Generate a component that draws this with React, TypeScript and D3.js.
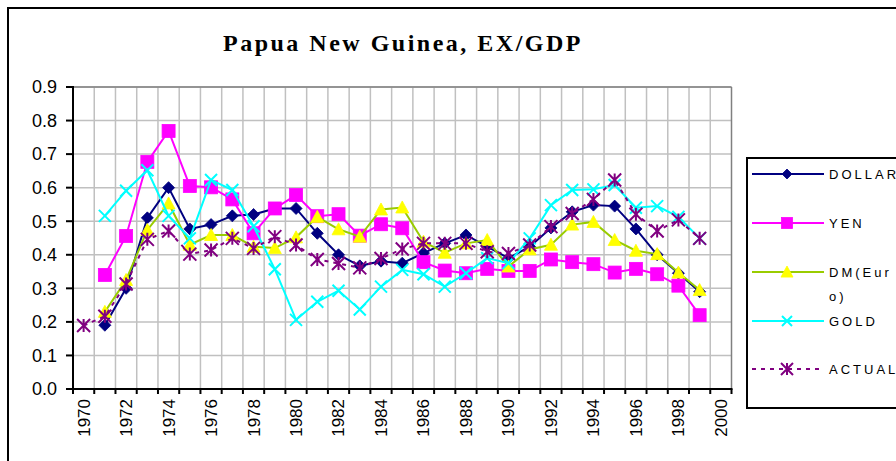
import React from 'react';
import * as d3 from 'd3';

const categories = ['1970','1971','1972','1973','1974','1975','1976','1977','1978','1979','1980','1981','1982','1983','1984','1985','1986','1987','1988','1989','1990','1991','1992','1993','1994','1995','1996','1997','1998','1999','2000'];
const years = ['1970','1971','1972','1973','1974','1975','1976','1977','1978','1979','1980','1981','1982','1983','1984','1985','1986','1987','1988','1989','1990','1991','1992','1993','1994','1995','1996','1997','1998','1999'];
const xTickLabels = ['1970','1972','1974','1976','1978','1980','1982','1984','1986','1988','1990','1992','1994','1996','1998','2000'];
const yTickValues = [0, 0.1, 0.2, 0.3, 0.4, 0.5, 0.6, 0.7, 0.8, 0.9];

const dollar = [null, 0.19, 0.30, 0.51, 0.60, 0.477, 0.49, 0.516, 0.52, 0.538, 0.538, 0.464, 0.40, 0.367, 0.381, 0.375, 0.405, 0.434, 0.459, 0.424, 0.39, 0.424, 0.48, 0.528, 0.548, 0.545, 0.477, 0.40, 0.345, 0.29];
const yen = [null, 0.34, 0.456, 0.677, 0.769, 0.605, 0.601, 0.565, 0.464, 0.538, 0.578, 0.515, 0.521, 0.457, 0.491, 0.479, 0.378, 0.353, 0.345, 0.358, 0.352, 0.352, 0.386, 0.378, 0.372, 0.347, 0.358, 0.342, 0.308, 0.22];
const dm = [null, 0.23, 0.325, 0.474, 0.553, 0.43, 0.459, 0.459, 0.424, 0.42, 0.452, 0.513, 0.476, 0.454, 0.535, 0.541, 0.439, 0.406, 0.434, 0.444, 0.365, 0.416, 0.43, 0.49, 0.498, 0.444, 0.412, 0.402, 0.347, 0.295];
const gold = [null, 0.516, 0.591, 0.652, 0.516, 0.449, 0.623, 0.593, 0.485, 0.357, 0.206, 0.26, 0.293, 0.237, 0.305, 0.355, 0.342, 0.305, 0.345, 0.39, 0.375, 0.449, 0.548, 0.593, 0.595, 0.608, 0.54, 0.545, 0.513, 0.449];
const actual = [0.189, 0.217, 0.313, 0.446, 0.471, 0.402, 0.414, 0.449, 0.419, 0.454, 0.429, 0.386, 0.374, 0.361, 0.389, 0.417, 0.434, 0.434, 0.434, 0.409, 0.404, 0.429, 0.484, 0.523, 0.565, 0.623, 0.521, 0.471, 0.504, 0.449];

const seriesNames = ['DOLLAR', 'YEN', 'DM(Eur o)', 'GOLD', 'ACTUAL'];

type Marker = 'diamond' | 'square' | 'triangle' | 'x' | 'star';

function MarkerShape({ kind, x, y, s, fill, stroke }: { kind: Marker; x: number; y: number; s: number; fill: string; stroke: string }) {
  const h = s / 2;
  if (kind === 'diamond') {
    return <path d={`M${x},${y - h}L${x + h},${y}L${x},${y + h}L${x - h},${y}Z`} fill={fill} stroke={stroke} strokeWidth={0.8} />;
  }
  if (kind === 'square') {
    return <rect x={x - h} y={y - h} width={s} height={s} fill={fill} stroke={stroke} strokeWidth={0.8} />;
  }
  if (kind === 'triangle') {
    return <path d={`M${x},${y - h}L${x + h},${y + h * 0.85}L${x - h},${y + h * 0.85}Z`} fill={fill} stroke={fill} strokeWidth={0.8} />;
  }
  if (kind === 'x') {
    return <path d={`M${x - h},${y - h}L${x + h},${y + h}M${x - h},${y + h}L${x + h},${y - h}`} stroke={stroke} strokeWidth={2} fill="none" />;
  }
  return <path d={`M${x - h},${y - h}L${x + h},${y + h}M${x - h},${y + h}L${x + h},${y - h}M${x},${y - h}L${x},${y + h}`} stroke={stroke} strokeWidth={2} fill="none" />;
}

export default function App() {
  const W = 896, H = 461;
  const left = 73, right = 731.5, top = 87, bottom = 389;
  const x = d3.scaleBand<string>().domain(categories).range([left, right]).padding(0);
  const y = d3.scaleLinear().domain([0, 0.9]).range([bottom, top]);
  const bw = x.bandwidth();
  const cx = (c: string) => (x(c) as number) + bw / 2;

  const series = [
    { name: seriesNames[0], data: dollar, line: '#000080', fill: '#000080', stroke: '#000080', marker: 'diamond' as Marker, size: 12, dash: undefined as string | undefined },
    { name: seriesNames[1], data: yen, line: '#FF00FF', fill: '#FF00FF', stroke: '#FF00FF', marker: 'square' as Marker, size: 13, dash: undefined },
    { name: seriesNames[2], data: dm, line: '#99CC00', fill: '#FFFF00', stroke: '#FFFF00', marker: 'triangle' as Marker, size: 13, dash: undefined },
    { name: seriesNames[3], data: gold, line: '#00FFFF', fill: 'none', stroke: '#00FFFF', marker: 'x' as Marker, size: 12, dash: undefined },
    { name: seriesNames[4], data: actual, line: '#800080', fill: 'none', stroke: '#800080', marker: 'star' as Marker, size: 13, dash: '4,5' },
  ];

  const lineGen = d3.line<number | null>()
    .defined((d) => d != null)
    .x((_, i) => cx(years[i]))
    .y((d) => y(d as number));

  const legendRows = [
    { yLine: 174, texts: [{ t: 'DOLLAR', y: 174 }] },
    { yLine: 223, texts: [{ t: 'YEN', y: 223 }] },
    { yLine: 272, texts: [{ t: 'DM(Eur', y: 272 }, { t: 'o)', y: 296 }] },
    { yLine: 321, texts: [{ t: 'GOLD', y: 321 }] },
    { yLine: 369, texts: [{ t: 'ACTUAL', y: 369 }] },
  ];
  const legendSizes = [10, 11, 12, 10, 12];

  return (
    <svg width={W} height={H} style={{ position: 'absolute', left: 0, top: 0, background: '#fff' }} xmlns="http://www.w3.org/2000/svg">
      <rect x={0} y={0} width={W} height={H} fill="#fff" />
      <rect x={8} y={8} width={1000} height={1000} fill="none" stroke="#000" strokeWidth={2} />
      <text x={223} y={51} fontFamily="'Liberation Serif', 'Times New Roman', serif" fontWeight="bold" fontSize={24} letterSpacing={2.5}>Papua New Guinea, EX/GDP</text>

      {yTickValues.map((v) => (
        <line key={'gy' + v} x1={left} x2={right} y1={y(v)} y2={y(v)} stroke="#C0C0C0" strokeWidth={1.5} />
      ))}
      {categories.slice(1).map((c) => (
        <line key={'gx' + c} x1={x(c) as number} x2={x(c) as number} y1={top} y2={bottom} stroke="#C0C0C0" strokeWidth={1.5} />
      ))}
      <line x1={left} x2={right} y1={top} y2={top} stroke="#808080" strokeWidth={1.5} />
      <line x1={right} x2={right} y1={top} y2={bottom} stroke="#808080" strokeWidth={1.5} />

      <line x1={left} x2={left} y1={top - 1} y2={bottom + 1} stroke="#000" strokeWidth={2} />
      <line x1={left - 1} x2={right + 1} y1={bottom} y2={bottom} stroke="#000" strokeWidth={2} />
      {yTickValues.map((v) => (
        <g key={'yt' + v}>
          <line x1={left - 7} x2={left} y1={y(v)} y2={y(v)} stroke="#000" strokeWidth={2} />
          <text x={57} y={y(v)} dy="0.35em" textAnchor="end" fontFamily="Arial, 'Liberation Sans', sans-serif" fontSize={18}>{v.toFixed(1)}</text>
        </g>
      ))}
      {categories.map((c) => (
        <line key={'xt' + c} x1={x(c) as number} x2={x(c) as number} y1={bottom} y2={bottom + 5} stroke="#000" strokeWidth={2} />
      ))}
      <line x1={right} x2={right} y1={bottom} y2={bottom + 5} stroke="#000" strokeWidth={2} />
      {xTickLabels.map((l) => (
        <text key={'xl' + l} transform={`translate(${cx(l)},399) rotate(-90)`} dy="0.35em" textAnchor="end" fontFamily="Arial, 'Liberation Sans', sans-serif" fontSize={17}>{l}</text>
      ))}

      {series.map((s) => (
        <g key={s.name}>
          <path d={lineGen(s.data as (number | null)[]) || ''} fill="none" stroke={s.line} strokeWidth={2} strokeDasharray={s.dash} />
          {s.data.map((v, i) => v == null ? null : (
            <MarkerShape key={i} kind={s.marker} x={cx(years[i])} y={y(v)} s={s.size} fill={s.fill} stroke={s.stroke} />
          ))}
        </g>
      ))}

      <rect x={747} y={158} width={300} height={250} fill="#fff" stroke="#000" strokeWidth={2} />
      {series.map((s, i) => (
        <g key={'lg' + s.name}>
          <line x1={752} x2={824} y1={legendRows[i].yLine} y2={legendRows[i].yLine} stroke={s.line} strokeWidth={2} strokeDasharray={s.dash} />
          <MarkerShape kind={s.marker} x={787} y={legendRows[i].yLine} s={legendSizes[i]} fill={s.fill} stroke={s.stroke} />
          {legendRows[i].texts.map((t) => (
            <text key={t.t} x={829} y={t.y} dy="0.35em" fontFamily="Arial, 'Liberation Sans', sans-serif" fontSize={13} letterSpacing={3}>{t.t}</text>
          ))}
        </g>
      ))}
    </svg>
  );
}
